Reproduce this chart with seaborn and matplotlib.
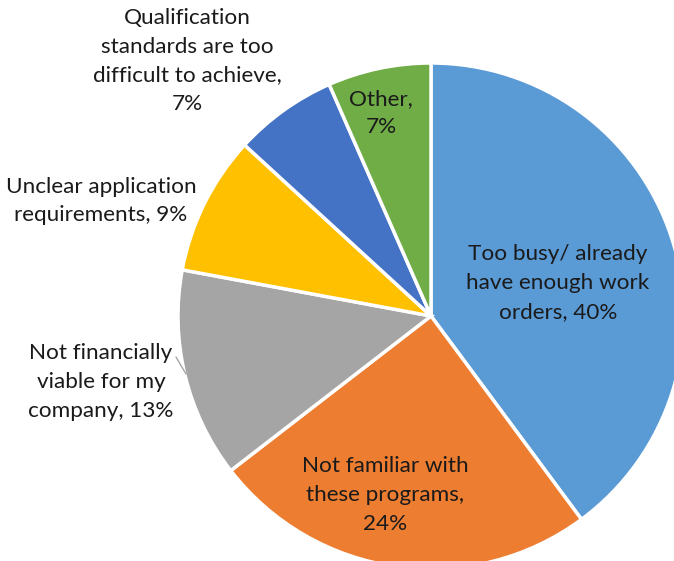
import matplotlib
matplotlib.use("Agg")
import matplotlib.pyplot as plt
import seaborn as sns

# reasons for not taking part
reasons = ['Too busy/ already\nhave enough work\norders',
           'Not familiar with\nthese programs',
           'Not financially\nviable for my\ncompany',
           'Unclear application\nrequirements',
           'Qualification\nstandards are too\ndifficult to achieve',
           'Other']
# slice sizes as measured from the chart, and the printed (rounded) labels
shares = [39.9, 24.7, 13.4, 8.9, 6.6, 6.6]
pct_labels = [40, 24, 13, 9, 7, 7]
colors = ['#5B9BD5', '#ED7D31', '#A5A5A5', '#FFC000', '#4472C4', '#70AD47']

# label centres in pixel coords (x, y from top), and separator before the value
label_pos = [(558, 283), (385, 495), (101, 382), (101, 201), (187, 61), (381, 113)]
value_sep = [' ', '\n', ' ', ' ', '\n', '\n']

sns.set_theme(style='white')
plt.rcParams['font.family'] = ['Lato', 'DejaVu Sans']

W, H = 674, 561
fig = plt.figure(figsize=(W / 100, H / 100), dpi=100)
ax = fig.add_axes([0, 0, 1, 1])

cx, cy, r = 431, 316, 253
ax.pie(shares, colors=sns.color_palette(colors), startangle=90, counterclock=False,
       radius=r, center=(cx, H - cy), frame=True,
       wedgeprops=dict(edgecolor='white', linewidth=2.5))

for name, val, (x, y), sep in zip(reasons, pct_labels, label_pos, value_sep):
    txt = f'{name},{sep}{val}%'
    ax.text(x, H - y, txt, ha='center', va='center', fontsize=16.2,
            color='#1a1a1a', linespacing=1.55)

# leader line for the grey slice label
ax.plot([176, 186], [H - 357, H - 374], color='#A5A5A5', lw=1)

ax.set_xlim(0, W)
ax.set_ylim(0, H)
ax.set_aspect('equal')
ax.axis('off')

fig.savefig('out.png', dpi=100)
